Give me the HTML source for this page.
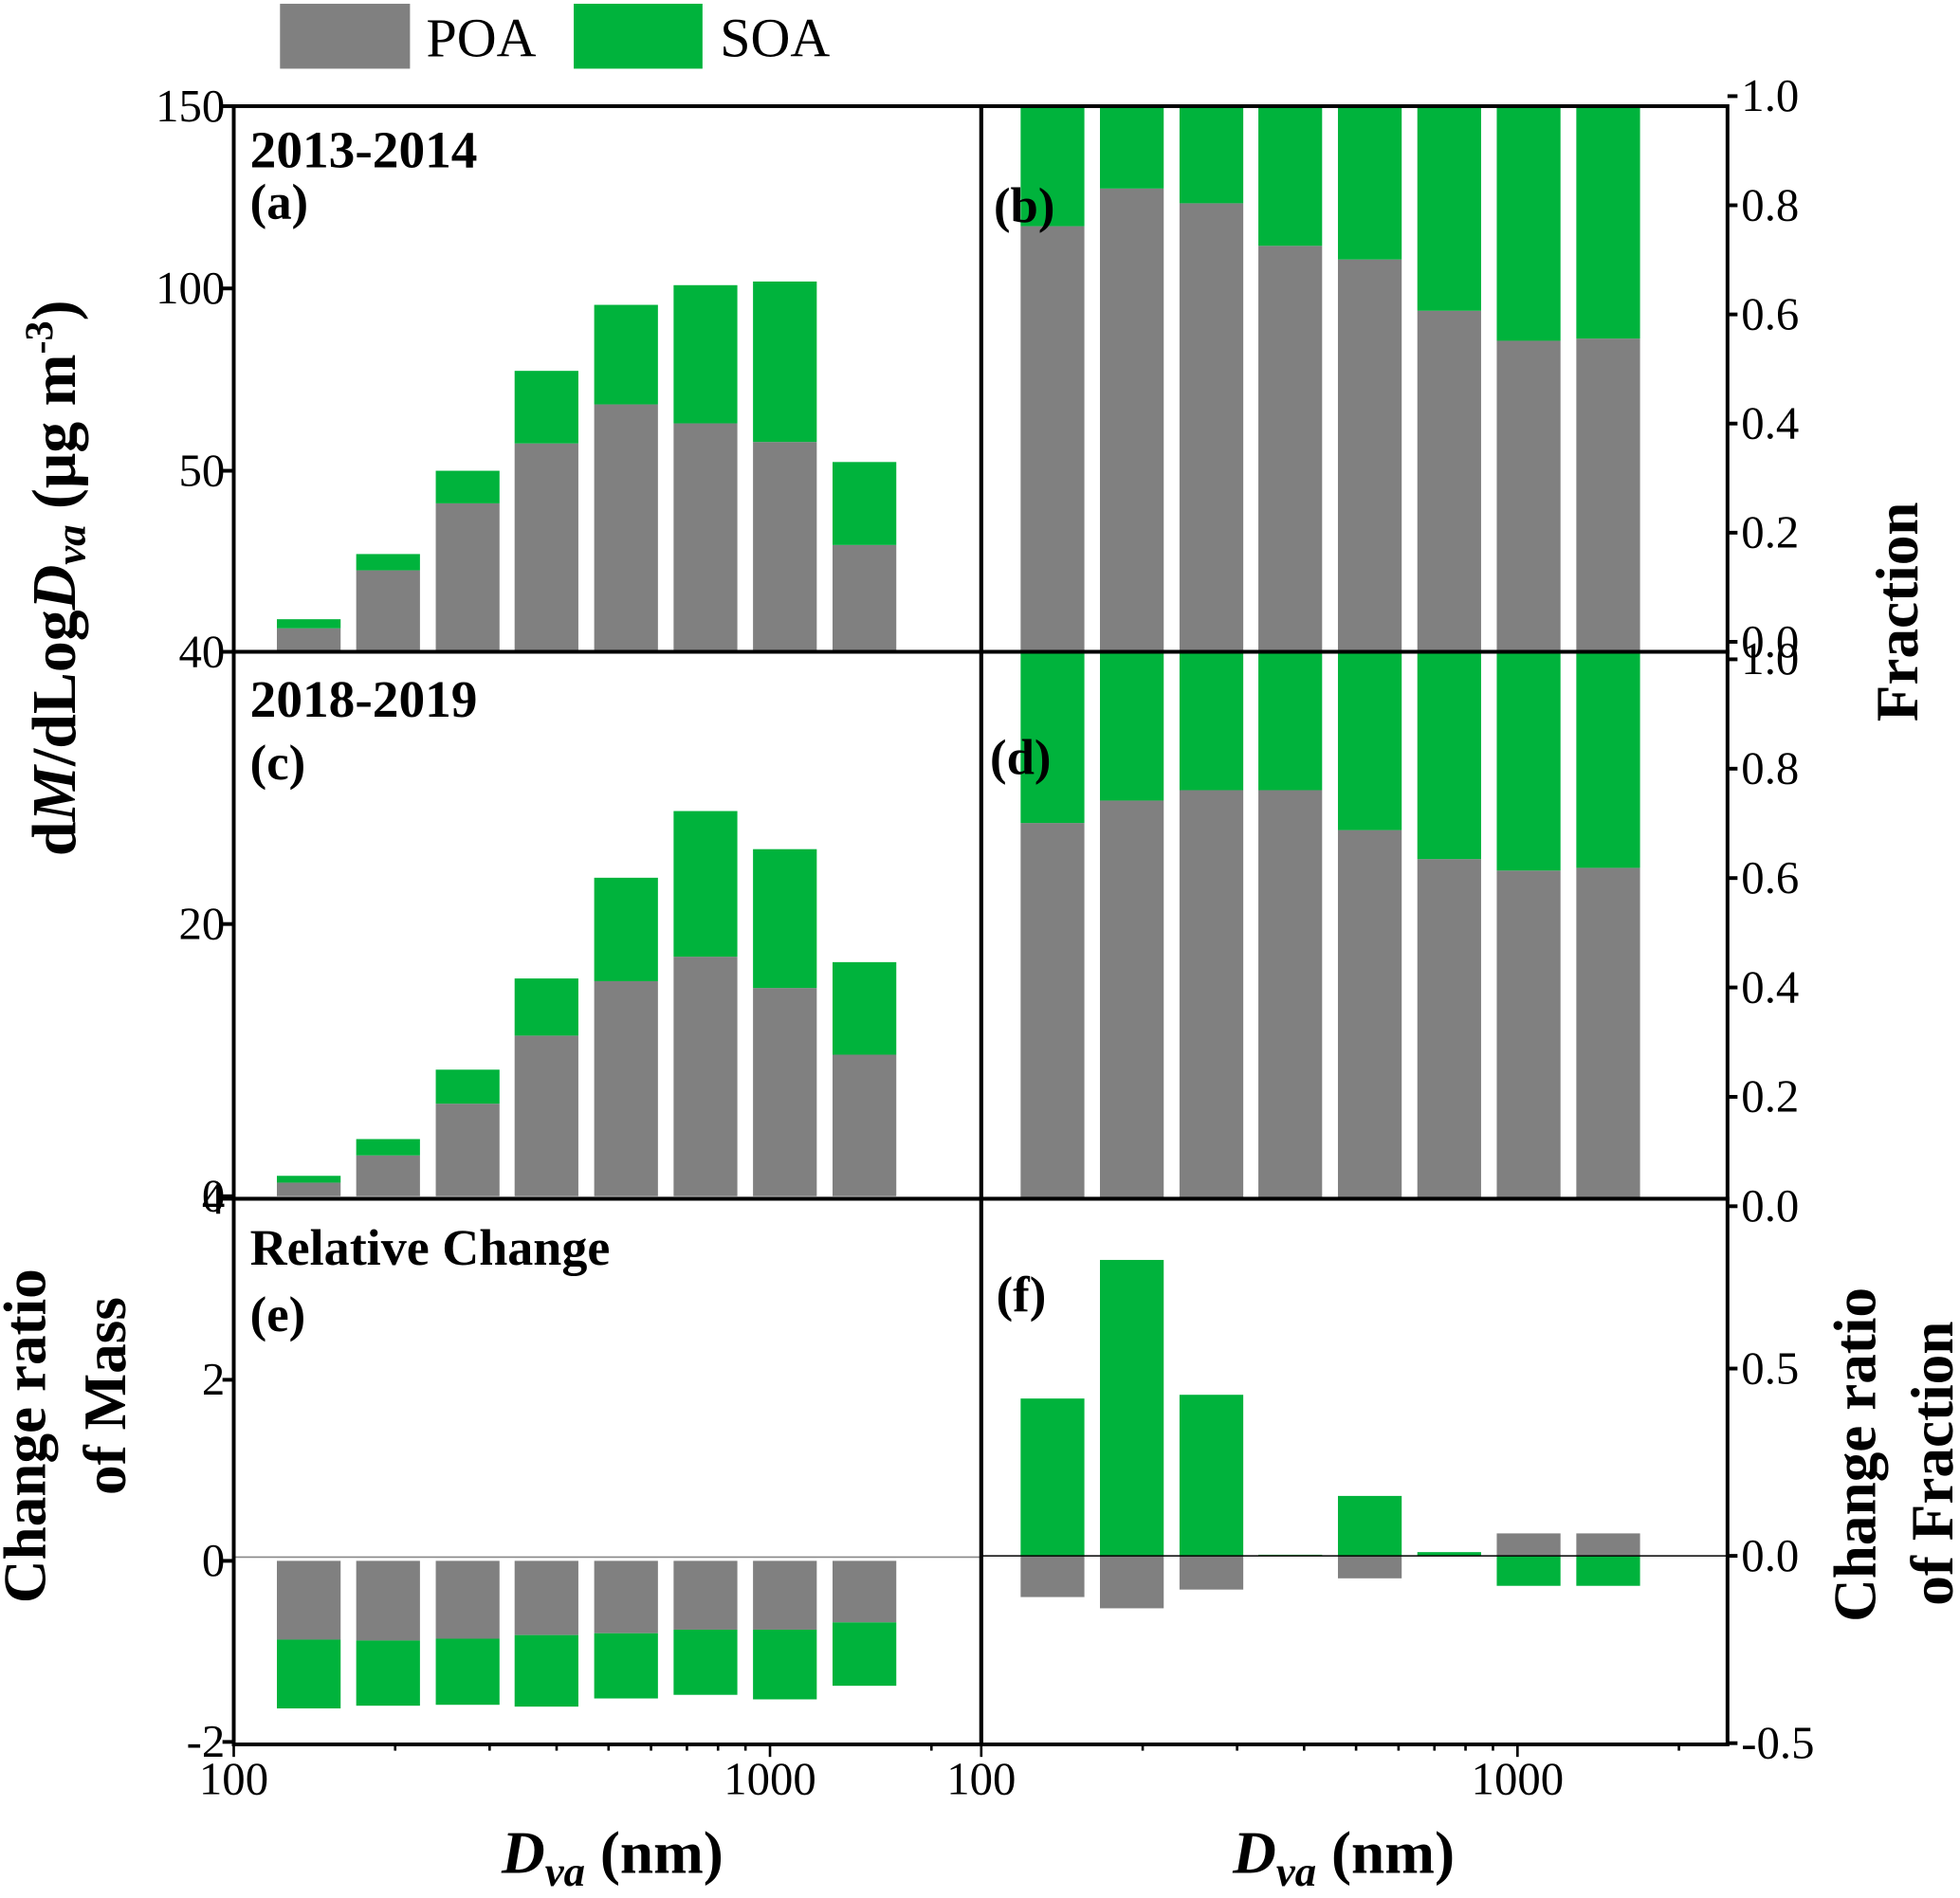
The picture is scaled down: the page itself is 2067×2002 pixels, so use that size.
<!DOCTYPE html>
<html><head><meta charset="utf-8"><style>
html,body{margin:0;padding:0;background:#fff}
svg{display:block}
text{font-family:"Liberation Serif",serif;fill:#000}
</style></head><body>
<svg id="chart" width="2067" height="2002" viewBox="0 0 1568 1520" preserveAspectRatio="none" xmlns="http://www.w3.org/2000/svg"></svg>
<script>
// ---- data ----
const diameters = [138, 194, 273, 383, 539, 758, 1066, 1500];
const poaA = [41.3, 44.5, 48.2, 57.5, 68.2, 63.0, 57.9, 45.9];
const soaA = [0.5, 0.9, 1.8, 19.9, 27.3, 37.9, 44.0, 6.5];
const poaFracB = [0.780, 0.849, 0.822, 0.744, 0.719, 0.625, 0.570, 0.574];
const poaC = [1.0, 3.0, 6.8, 11.8, 15.8, 17.6, 15.3, 10.4];
const soaC = [0.5, 1.2, 2.5, 4.2, 7.6, 10.7, 10.2, 6.8];
const poaFracD = [0.687, 0.728, 0.747, 0.747, 0.674, 0.621, 0.600, 0.605];
const poaE = [-0.87, -0.88, -0.86, -0.82, -0.80, -0.76, -0.76, -0.68];
const soaE = [-0.76, -0.72, -0.73, -0.79, -0.72, -0.72, -0.77, -0.70];
const poaF = [-0.11, -0.14, -0.09, 0.0, -0.06, 0.0, 0.06, 0.06];
const soaF = [0.42, 0.79, 0.43, 0.003, 0.16, 0.01, -0.08, -0.08];
const ticksA = [40, 50, 100, 150];
const ticksC = [0, 20, 40];
const ticksE = [-2, 0, 2, 4];
const ticksFrac = [0.0, 0.2, 0.4, 0.6, 0.8, 1.0];
const ticksF = [-0.5, 0.0, 0.5];
const ticksX = [100, 1000];

const GRAY = '#808080', GREEN = '#00b33c';
const svg = document.getElementById('chart');
const NS = 'http://www.w3.org/2000/svg';
function el(tag, attrs, parent) {
  const e = document.createElementNS(NS, tag);
  for (const k in attrs) e.setAttribute(k, attrs[k]);
  (parent || svg).appendChild(e);
  return e;
}
function txt(s, x, y, size, opts) {
  const t = el('text', Object.assign({x: x, y: y, 'font-size': size}, opts || {}));
  t.textContent = s;
  return t;
}

// ---- panel geometry ----
const L = {x0: 187, x1: 785}, R = {x0: 785, x1: 1382};
const rows = [{y0: 85, y1: 522}, {y0: 522, y1: 960}, {y0: 960, y1: 1397}];
const DEC = 429;
function xL(d) { return L.x0 + Math.log10(d / 100) * DEC; }
function xR(d) { return R.x0 - 3 + Math.log10(d / 100) * DEC; }
function xRt(d) { return R.x0 + Math.log10(d / 100) * DEC; }
const HALFW = 25.5;

// axis functions
function yA(v) { return v <= 50 ? 522 - (v - 40) * 14.5 : 377 - (v - 50) * 2.92; }
function yFrac1(f) { return 522 - f * 437; }
function yC(v) { return 958 - v * 10.9; }
function yFrac2(f) { return 960 - f * 438; }
function yE(v) { return 1250 - v * 72.5; }
function yF(v) { return 1246 - v * 300; }

function bar(x, yTop, yBot, color, name) {
  const r = el('rect', {x: x - HALFW, y: Math.min(yTop, yBot), width: HALFW * 2, height: Math.abs(yBot - yTop), fill: color});
  
  
}

diameters.forEach((d, i) => {
  bar(xL(d), yA(poaA[i]), yA(40), GRAY, 'bar-a-poa-' + (i + 1));
  bar(xL(d), yA(poaA[i] + soaA[i]), yA(poaA[i]), GREEN, 'bar-a-soa-' + (i + 1));
});
diameters.forEach((d, i) => {
  bar(xR(d), yFrac1(poaFracB[i]), yFrac1(0), GRAY, 'bar-b-poa-' + (i + 1));
  bar(xR(d), yFrac1(1), yFrac1(poaFracB[i]), GREEN, 'bar-b-soa-' + (i + 1));
});
diameters.forEach((d, i) => {
  bar(xL(d), yC(poaC[i]), yC(0), GRAY, 'bar-c-poa-' + (i + 1));
  bar(xL(d), yC(poaC[i] + soaC[i]), yC(poaC[i]), GREEN, 'bar-c-soa-' + (i + 1));
});
diameters.forEach((d, i) => {
  bar(xR(d), yFrac2(poaFracD[i]), yFrac2(0), GRAY, 'bar-d-poa-' + (i + 1));
  bar(xR(d), yFrac2(1), yFrac2(poaFracD[i]), GREEN, 'bar-d-soa-' + (i + 1));
});
diameters.forEach((d, i) => {
  bar(xL(d), yE(0), yE(poaE[i]), GRAY, 'bar-e-poa-' + (i + 1));
  bar(xL(d), yE(poaE[i]), yE(poaE[i] + soaE[i]), GREEN, 'bar-e-soa-' + (i + 1));
});
diameters.forEach((d, i) => {
  bar(xR(d), yF(0), yF(poaF[i]), GRAY, 'bar-f-poa-' + (i + 1));
  bar(xR(d), yF(0), yF(soaF[i]), GREEN, 'bar-f-soa-' + (i + 1));
});

el('line', {x1: L.x0, x2: L.x1, y1: 1247, y2: 1247, stroke: '#888', 'stroke-width': 1.2});
el('line', {x1: R.x0, x2: R.x1, y1: 1246, y2: 1246, stroke: '#000', 'stroke-width': 1.2});

[L, R].forEach(c => rows.forEach(r => {
  el('rect', {x: c.x0, y: r.y0, width: c.x1 - c.x0, height: r.y1 - r.y0, fill: 'none', stroke: '#000', 'stroke-width': 3});
}));

function leftTicks(ticks, fn) {
  ticks.forEach(v => {
    const y = fn(v);
    el('line', {x1: L.x0 - 9, x2: L.x0, y1: y, y2: y, stroke: '#000', 'stroke-width': 3});
    txt(String(v), L.x0 - 7, y + 12, 37, {'text-anchor': 'end'});
  });
}
leftTicks(ticksA, yA);
leftTicks(ticksC.filter(v => v < 40), yC);
leftTicks(ticksE, yE);
function rightTicks(ticks, fn) {
  ticks.forEach(v => {
    const y = fn(v);
    el('line', {x1: R.x1, x2: R.x1 + 8, y1: y, y2: y, stroke: '#000', 'stroke-width': 3});
    txt(v.toFixed(1), R.x1 + 11, y + 12, 37, {'text-anchor': 'start'});
  });
}
rightTicks(ticksFrac, f => yFrac1(f) - 8);
rightTicks(ticksFrac, f => yFrac2(f) + 6);
rightTicks(ticksF, yF);
[xL, xRt].forEach((fn, k) => {
  for (let d = 100; d <= 2000; d += (d < 1000 ? 100 : 1000)) {
    const x = fn(d);
    if (x > (k ? R.x1 : L.x1)) continue;
    const major = ticksX.includes(d);
    el('line', {x1: x, x2: x, y1: 1397, y2: 1397 + (major ? 10 : 5), stroke: '#000', 'stroke-width': 2});
  }
  ticksX.forEach(d => txt(String(d), fn(d), 1437, 37, {'text-anchor': 'middle'}));
});

const B = {'font-weight': 'bold'};
txt('2013-2014', 200, 134, 42, B);
txt('(a)', 200, 175, 40, B);
txt('(b)', 795, 178, 40, B);
txt('2018-2019', 200, 574, 42, B);
txt('(c)', 200, 624, 40, B);
txt('(d)', 792, 620, 40, B);
txt('Relative Change', 200, 1013, 41, B);
txt('(e)', 200, 1066, 40, B);
txt('(f)', 797, 1050, 40, B);

const yt = el('text', {transform: 'translate(60,463) rotate(-90)', 'text-anchor': 'middle', 'font-size': 50, 'font-weight': 'bold'});
yt.innerHTML = 'd<tspan font-style="italic">M</tspan>/dLog<tspan font-style="italic">D</tspan><tspan font-style="italic" font-size="34" dy="8">va</tspan><tspan dy="-8"> (μg m</tspan><tspan font-size="32" dy="-18">-3</tspan><tspan dy="18">)</tspan>';


txt('Change  ratio', 0, 0, 48, {transform: 'translate(36,1150) rotate(-90)', 'text-anchor': 'middle', 'font-weight': 'bold'});
txt('of Mass', 0, 0, 48, {transform: 'translate(100,1118) rotate(-90)', 'text-anchor': 'middle', 'font-weight': 'bold'});
txt('Fraction', 0, 0, 48, {transform: 'translate(1534,490) rotate(-90)', 'text-anchor': 'middle', 'font-weight': 'bold'});
txt('Change ratio', 0, 0, 48, {transform: 'translate(1500,1165) rotate(-90)', 'text-anchor': 'middle', 'font-weight': 'bold'});
txt('of Fraction', 0, 0, 48, {transform: 'translate(1562,1172) rotate(-90)', 'text-anchor': 'middle', 'font-weight': 'bold'});
[490, 1075].forEach((cx, k) => {
  const t = el('text', {x: cx, y: 1500, 'text-anchor': 'middle', 'font-size': 48, 'font-weight': 'bold'});
  t.innerHTML = '<tspan font-style="italic">D</tspan><tspan font-style="italic" font-size="34" dy="10">va</tspan><tspan dy="-10"> (nm)</tspan>';
  
  
});

el('rect', {x: 224, y: 3, width: 104, height: 52, fill: GRAY});
txt('POA', 341, 45, 44);
el('rect', {x: 459, y: 3, width: 103, height: 52, fill: GREEN});
txt('SOA', 576, 45, 44);
</script>
</body></html>
